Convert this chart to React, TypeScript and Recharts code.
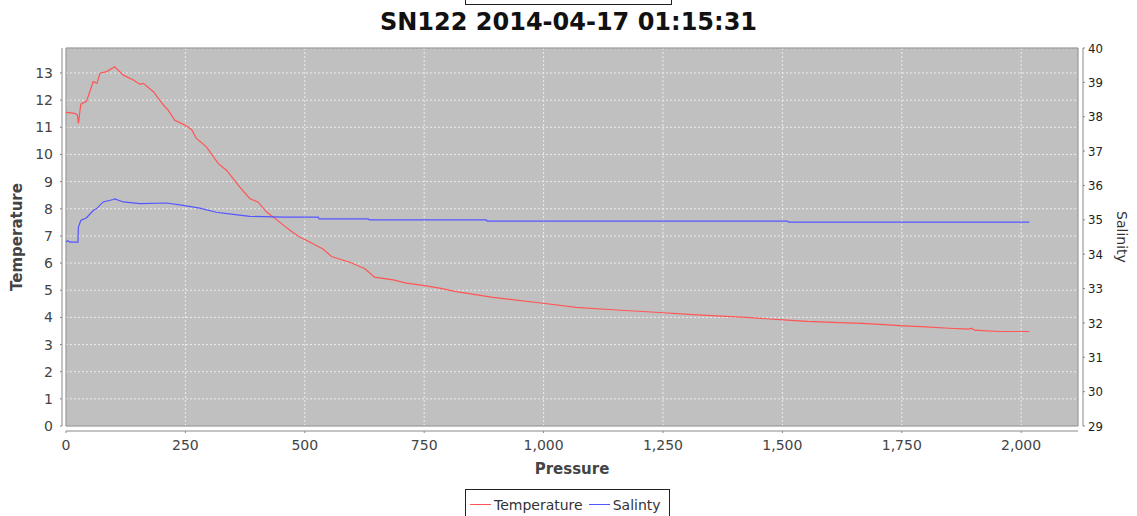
import React from "react";
import { LineChart, Line, XAxis, YAxis, CartesianGrid, ReferenceArea } from "recharts";

// temperature profile (pressure in dbar)
const tempPressure = [
  0, 19, 24, 26, 31, 43, 57, 65, 71, 85, 102, 120, 141, 155, 162, 183, 204, 214, 228, 249, 263, 273, 294,
  319, 336, 364, 385, 402, 420, 441, 465, 479, 490, 504, 538, 556, 594, 626, 646, 685, 713, 751, 782, 817,
  894, 999, 1068, 1145, 1243, 1312, 1424, 1473, 1510, 1552, 1619, 1667, 1713, 1755, 1791, 1849, 1891, 1896,
  1902, 1954, 2017,
];
const temperature = [
  11.55, 11.51, 11.45, 11.14, 11.85, 11.96, 12.68, 12.62, 12.99, 13.05, 13.23, 12.92, 12.74, 12.58, 12.62,
  12.31, 11.82, 11.63, 11.26, 11.08, 10.92, 10.59, 10.28, 9.66, 9.42, 8.8, 8.37, 8.25, 7.88, 7.6, 7.26, 7.08,
  6.95, 6.83, 6.52, 6.24, 6.03, 5.79, 5.48, 5.38, 5.26, 5.17, 5.08, 4.95, 4.74, 4.52, 4.37, 4.28, 4.18, 4.1,
  4.0, 3.94, 3.9, 3.85, 3.81, 3.78, 3.73, 3.69, 3.66, 3.6, 3.57, 3.6, 3.53, 3.48, 3.48,
];

// salinity profile
const salPressure = [
  0, 4, 8, 25, 26, 31, 43, 57, 65, 78, 99, 102, 120, 155, 211, 245, 280, 315, 350, 385, 455, 528, 530, 633,
  635, 880, 882, 1511, 1513, 2017,
];
const salinity = [
  34.36, 34.39, 34.35, 34.35, 34.79, 34.98, 35.06, 35.27, 35.34, 35.52, 35.59, 35.61, 35.52, 35.47, 35.49,
  35.42, 35.34, 35.22, 35.16, 35.1, 35.08, 35.08, 35.03, 35.03, 35.0, 35.0, 34.96, 34.96, 34.93, 34.93,
];

const pressureTicks = [0, 250, 500, 750, 1000, 1250, 1500, 1750, 2000];
const tempTicks = [0, 1, 2, 3, 4, 5, 6, 7, 8, 9, 10, 11, 12, 13];
const salTicks = [29, 30, 31, 32, 33, 34, 35, 36, 37, 38, 39, 40];

const xMax = 2119;
const tMax = 13.92;

const tempData = tempPressure.map((p, i) => ({ p, t: temperature[i] }));
const salData = salPressure.map((p, i) => ({ p, s: salinity[i] }));

const RED = "#ff5555";
const BLUE = "#5555ff";

const LegendItem = ({ color, label }: { color: string; label: string }) => (
  <span style={{ display: "inline-flex", alignItems: "center", marginRight: 6 }}>
    <span style={{ display: "inline-block", width: 21, height: 0, borderTop: `1px solid ${color}`, marginRight: 3 }} />
    {label}
  </span>
);

export default function App() {
  return (
    <div
      style={{
        position: "absolute",
        left: 0,
        top: 0,
        width: 1137,
        height: 516,
        overflow: "hidden",
        background: "#fff",
        fontFamily: "'DejaVu Sans', sans-serif",
      }}
    >
      {/* cut-off box at the very top */}
      <div
        style={{
          position: "absolute",
          left: 465,
          top: -24,
          width: 205,
          height: 27,
          border: "1px solid #222",
        }}
      />
      <div
        style={{
          position: "absolute",
          left: 0,
          top: 7,
          width: 1137,
          textAlign: "center",
          fontSize: 24,
          fontWeight: "bold",
          lineHeight: "30px",
          color: "#111",
        }}
      >
        SN122 2014-04-17 01:15:31
      </div>

      <div style={{ position: "absolute", left: 0, top: 0 }}>
        <LineChart width={1137} height={516} margin={{ top: 48, right: 0, bottom: 40, left: 0 }}>
          <CartesianGrid xAxisId="p" yAxisId="t" fill="#c0c0c0" stroke="#ececec" strokeDasharray="2 2" />
          <XAxis
            xAxisId="p"
            dataKey="p"
            type="number"
            domain={[0, xMax]}
            ticks={pressureTicks}
            tickFormatter={(v: number) => v.toLocaleString("en-US")}
            height={50}
            tickSize={2}
            tickMargin={12}
            axisLine={{ stroke: "#888", transform: "translate(0,5)" }}
            tickLine={{ stroke: "#888", transform: "translate(0,5)" }}
            tick={{ fill: "#444", fontSize: 14 }}
            label={{
              value: "Pressure",
              position: "insideBottom",
              offset: 2,
              style: { fill: "#444", fontSize: 15, fontWeight: "bold" },
            }}
          />
          <YAxis
            yAxisId="t"
            orientation="left"
            type="number"
            domain={[0, tMax]}
            ticks={tempTicks}
            width={66}
            tickSize={2}
            tickMargin={11}
            axisLine={{ stroke: "#888", transform: "translate(-4,0)" }}
            tickLine={{ stroke: "#888", transform: "translate(-4,0)" }}
            tick={{ fill: "#444", fontSize: 14 }}
            label={{
              value: "Temperature",
              angle: -90,
              position: "insideLeft",
              offset: 17,
              style: { fill: "#444", fontSize: 15, fontWeight: "bold", textAnchor: "middle" },
            }}
          />
          <YAxis
            yAxisId="s"
            orientation="right"
            type="number"
            domain={[29, 40]}
            ticks={salTicks}
            width={59}
            tickSize={2}
            tickMargin={8}
            axisLine={{ stroke: "#888", transform: "translate(5,0)" }}
            tickLine={{ stroke: "#888", transform: "translate(5,0)" }}
            tick={{ fill: "#222", fontSize: 13, fontFamily: "'DejaVu Sans Condensed', 'DejaVu Sans'", fontStretch: "condensed" }}
            label={{
              value: "Salinity",
              angle: 90,
              position: "insideRight",
              offset: 15,
              style: { fill: "#333", fontSize: 14, textAnchor: "middle" },
            }}
          />
          <ReferenceArea
            xAxisId="p"
            yAxisId="t"
            x1={0}
            x2={xMax}
            y1={0}
            y2={tMax}
            fill="none"
            stroke="#888"
            strokeWidth={1}
            ifOverflow="visible"
          />
          <Line
            xAxisId="p"
            yAxisId="t"
            data={tempData}
            dataKey="t"
            name="Temperature"
            type="linear"
            stroke={RED}
            strokeWidth={1.2}
            dot={false}
            isAnimationActive={false}
          />
          <Line
            xAxisId="p"
            yAxisId="s"
            data={salData}
            dataKey="s"
            name="Salinty"
            type="linear"
            stroke={BLUE}
            strokeWidth={1.2}
            dot={false}
            isAnimationActive={false}
          />
        </LineChart>
      </div>

      <div
        style={{
          position: "absolute",
          left: 465,
          top: 489,
          width: 205,
          height: 40,
          border: "1px solid #222",
          boxSizing: "border-box",
          padding: "2px 0 0 4px",
          fontSize: 14,
          color: "#333",
          whiteSpace: "nowrap",
          background: "#fff",
        }}
      >
        <LegendItem color={RED} label="Temperature" />
        <LegendItem color={BLUE} label="Salinty" />
      </div>
    </div>
  );
}
